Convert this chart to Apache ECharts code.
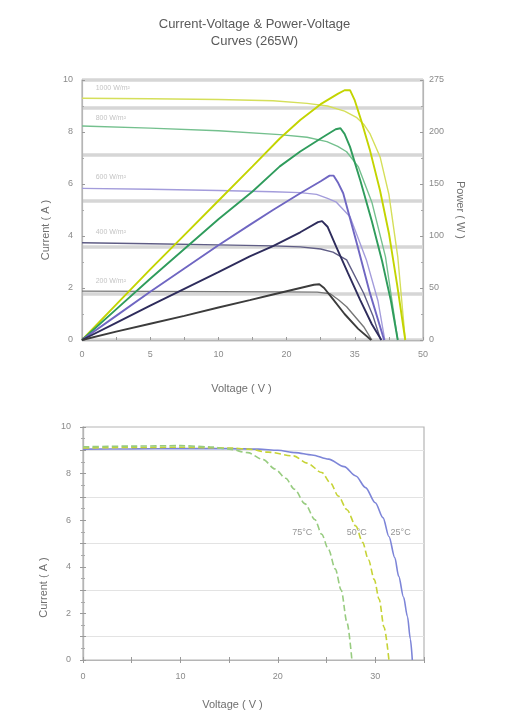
<!DOCTYPE html>
<html>
<head>
<meta charset="utf-8">
<script src="https://cdn.jsdelivr.net/npm/echarts@6/dist/echarts.min.js"></script>
<style>
    html, body { margin: 0; padding: 0; background: #fff; }
    #chart { width: 509px; height: 720px; }
</style>
</head>
<body>
<div id="chart"></div>
<script>
    // ---- top chart: x runs in plot units 0..50, printed with the sheet's labels
    const topVoltLabels = ['0', '5', '10', '20', '35', '50'];
    const powerLabels = ['0', '50', '100', '150', '200', '275'];
    const irradiances = ['1000 W/m²', '800 W/m²', '600 W/m²', '400 W/m²', '200 W/m²'];
    const irrLabelPos = [[2, 9.69], [2, 8.54], [2, 6.27], [2, 4.15], [2, 2.27]];

    // power-voltage curves (W)
    const pv1000 = [[0, 0], [5, 38], [10, 76], [15, 113], [20, 150], [25, 187], [29, 217], [32, 237], [35, 254], [37.5, 265], [38.5, 269], [39.3, 269], [40, 258], [41, 235], [42.2, 205], [43.7, 161], [45, 115], [46.2, 60], [47.4, 0]];
    const pv800 = [[0, 0], [5, 33], [10, 66], [15, 98], [20, 130], [25, 160], [29, 187], [32, 203], [35, 217], [37.2, 227], [37.9, 228], [38.5, 222], [39.3, 208], [40.8, 172], [42.5, 128], [44, 85], [45.3, 42], [46.3, 0]];
    const pv600 = [[0, 0], [5, 26], [10, 52], [15, 77], [20, 102], [24.6, 124], [28, 140], [32, 158], [35, 171], [36.3, 177], [36.9, 177], [37.5, 170], [38.3, 158], [40.3, 104], [42.2, 51], [44.3, 0]];
    const pv400 = [[0, 0], [5, 18.5], [10, 37], [15, 55], [20, 73], [24.6, 90], [28, 101], [32, 116], [34.6, 127], [35.2, 128], [36, 122], [37.3, 100], [39, 72], [40.8, 43], [42.5, 17], [43.9, 0]];
    const pv200 = [[0, 0], [5, 9], [10, 17.5], [15, 26], [20, 35], [24.6, 43], [28, 49], [32, 56], [34, 59.5], [34.8, 60], [35.5, 56], [36.8, 44], [38.5, 28], [40.5, 12], [42.4, 0]];

    // current-voltage curves (A)
    const iv1000 = [[0, 9.3], [10, 9.28], [20, 9.25], [28, 9.2], [33, 9.1], [36, 9.0], [38.5, 8.8], [40.3, 8.55], [41.3, 8.3], [42.2, 7.95], [43.7, 7.05], [45, 5.6], [46.3, 3.2], [47.4, 0]];
    const iv800 = [[0, 8.23], [10, 8.15], [20, 8.05], [29, 7.9], [33, 7.8], [35.9, 7.63], [37.5, 7.45], [38.8, 7.24], [40.5, 6.67], [42.5, 5.3], [44.5, 3.2], [46.3, 0]];
    const iv600 = [[0, 5.83], [10, 5.8], [20, 5.75], [28, 5.7], [32, 5.67], [34.4, 5.6], [36, 5.45], [37.3, 5.3], [39.3, 4.74], [41.7, 3.08], [43.4, 1.5], [44.4, 0]];
    const iv400 = [[0, 3.74], [10, 3.7], [20, 3.66], [28, 3.62], [32, 3.58], [35, 3.5], [36.8, 3.38], [38.8, 3.08], [41.3, 1.8], [42.7, 0.9], [43.8, 0]];
    const iv200 = [[0, 1.88], [10, 1.87], [20, 1.86], [30, 1.85], [34.5, 1.84], [36.4, 1.78], [37.6, 1.55], [38.8, 1.28], [41.3, 0.51], [42.5, 0]];

    // ---- bottom chart: current vs voltage at three cell temperatures
    const temps = ['25°C', '50°C', '75°C'];
    const tempLabelPos = [[32.6, 5.47], [28.1, 5.47], [22.5, 5.47]];
    const t25 = [[0, 9.05], [5, 9.06], [10, 9.07], [15, 9.07], [18, 9.05], [20, 9.0], [21.8, 8.9], [23.5, 8.8], [25.2, 8.62], [26.8, 8.3], [28, 7.9], [29, 7.4], [30, 6.75], [30.8, 6.1], [31.4, 5.3], [32, 4.4], [32.4, 3.6], [32.9, 2.7], [33.3, 1.87], [33.6, 0.9], [33.8, 0]];
    const t50 = [[0, 9.1], [5, 9.12], [10, 9.13], [15, 9.1], [17, 9.05], [19, 8.92], [21.6, 8.76], [23, 8.45], [24.5, 8.05], [25.4, 7.6], [26.2, 7.04], [27.1, 6.45], [28, 5.75], [28.7, 5.05], [29.3, 4.3], [29.9, 3.45], [30.4, 2.6], [30.9, 1.4], [31.4, 0]];
    const t75 = [[0, 9.15], [5, 9.18], [10, 9.2], [13, 9.15], [15, 9.05], [16.9, 8.9], [18.5, 8.6], [19.7, 8.2], [20.8, 7.8], [21.7, 7.33], [22.8, 6.7], [23.8, 6.03], [24.5, 5.4], [25.2, 4.74], [25.9, 3.9], [26.5, 3.0], [27.1, 1.6], [27.6, 0]];

    const pvColors = ['#c3d400', '#2f9c5c', '#6f66c2', '#2e2c5c', '#3c3c3c'];
    const ivColors = ['#d5df5a', '#74c08e', '#a39cdb', '#5f5d85', '#777777'];
    const tempColors = ['#7d85d8', '#c6d336', '#98cc80'];

    const font = 'Liberation Sans';
    const axisGray = '#b5b5b5';
    const labelStyle = {color: '#8a8a8a', fontSize: 9, fontFamily: font};
    const nameStyle = {color: '#6f6f6f', fontSize: 11, fontFamily: font};

    let chart = echarts.init(document.getElementById('chart'));

    let pvSets = [pv1000, pv800, pv600, pv400, pv200];
    let ivSets = [iv1000, iv800, iv600, iv400, iv200];
    let series = [];

    for (let i = 0; i < ivSets.length; i++) {
        series.push({
            type: 'line', xAxisIndex: 0, yAxisIndex: 0,
            data: ivSets[i], showSymbol: false,
            lineStyle: {color: ivColors[i], width: 1.4}
        });
    }
    for (let i = 0; i < pvSets.length; i++) {
        series.push({
            type: 'line', xAxisIndex: 0, yAxisIndex: 2,
            data: pvSets[i], showSymbol: false,
            lineStyle: {color: pvColors[i], width: 1.9}
        });
    }
    series.push({
        type: 'scatter', xAxisIndex: 0, yAxisIndex: 0, symbolSize: 0, silent: true,
        data: irrLabelPos.map((p, i) => ({value: p, name: irradiances[i]})),
        label: {show: true, position: 'right', distance: 0, formatter: '{b}', color: '#b4b4b4', fontSize: 7, fontFamily: font}
    });

    let tSets = [t25, t50, t75];
    for (let i = 0; i < tSets.length; i++) {
        series.push({
            type: 'line', xAxisIndex: 1, yAxisIndex: 3,
            data: tSets[i], showSymbol: false, smooth: 0.3, smoothMonotone: 'x',
            lineStyle: {color: tempColors[i], width: 1.6, type: i === 0 ? 'solid' : 'dashed'}
        });
    }
    series.push({
        type: 'scatter', xAxisIndex: 1, yAxisIndex: 3, symbolSize: 0, silent: true,
        data: tempLabelPos.map((p, i) => ({value: p, name: temps[i]})),
        label: {show: true, position: 'inside', formatter: '{b}', color: '#7a7a7a', fontSize: 9, fontFamily: font}
    });

    let tickIn = {show: true, inside: true, length: 3, lineStyle: {color: '#9a9a9a'}};
    let minorIn = {show: true, splitNumber: 2, length: 2, lineStyle: {color: '#aaaaaa'}};
    let line = {show: true, lineStyle: {color: axisGray, width: 1.2}};

    chart.setOption({
        animation: false,
        title: {
            text: 'Current-Voltage & Power-Voltage\nCurves (265W)',
            left: 'center', top: 11,
            textStyle: {fontSize: 13, fontWeight: 'normal', color: '#5a5a5a', lineHeight: 17, fontFamily: font}
        },
        grid: [
            {left: 82, right: 86, top: 80, bottom: 380, show: true, borderColor: axisGray, borderWidth: 1.2},
            {left: 83, right: 85, top: 427, bottom: 60, show: true, borderColor: axisGray, borderWidth: 1.2}
        ],
        xAxis: [
            {
                type: 'value', gridIndex: 0, min: 0, max: 50, interval: 5,
                axisLine: line, axisTick: tickIn, splitLine: {show: false},
                axisLabel: Object.assign({margin: 10, formatter: v => v % 10 === 0 ? topVoltLabels[v / 10] : ''}, labelStyle),
                name: 'Voltage ( V )', nameLocation: 'middle', nameGap: 43,
                nameTextStyle: Object.assign({padding: [0, 22, 0, 0]}, nameStyle)
            },
            {
                type: 'value', gridIndex: 1, min: 0, max: 35, interval: 5,
                axisLine: line, axisTick: tickIn, splitLine: {show: false},
                axisLabel: Object.assign({margin: 12, formatter: v => (v % 10 === 0 && v < 35) ? String(v) : ''}, labelStyle),
                name: 'Voltage ( V )', nameLocation: 'middle', nameGap: 39,
                nameTextStyle: Object.assign({padding: [0, 42, 0, 0]}, nameStyle)
            },
            {
                type: 'value', gridIndex: 1, min: 0, max: 35, interval: 5, position: 'top',
                axisLine: line, axisTick: tickIn, axisLabel: {show: false}, splitLine: {show: false}
            }
        ],
        yAxis: [
            {
                type: 'value', gridIndex: 0, min: 0, max: 10, interval: 2,
                axisLine: line, axisTick: tickIn, minorTick: minorIn, splitLine: {show: false},
                axisLabel: Object.assign({margin: 9}, labelStyle),
                name: 'Current ( A )', nameLocation: 'middle', nameGap: 31, nameRotate: 90,
                nameTextStyle: Object.assign({padding: [0, 40, 0, 0]}, nameStyle)
            },
            {
                type: 'value', gridIndex: 0, min: 0, max: 280, interval: 56, position: 'right',
                axisLine: line, axisTick: tickIn, minorTick: minorIn, splitLine: {show: false},
                axisLabel: Object.assign({margin: 6, formatter: v => powerLabels[Math.round(v / 56)]}, labelStyle),
                name: 'Power ( W )', nameLocation: 'middle', nameGap: 22, nameRotate: -90,
                nameTextStyle: nameStyle
            },
            {
                // hidden power scale carrying the grey reference bands
                type: 'value', gridIndex: 0, min: 0, max: 280, interval: 50, position: 'right',
                axisLine: {show: false}, axisTick: {show: false}, axisLabel: {show: false},
                splitLine: {show: true, lineStyle: {color: '#d6d6d6', width: 3.5}}
            },
            {
                type: 'value', gridIndex: 1, min: 0, max: 10, interval: 1,
                axisLine: line, axisTick: tickIn, minorTick: minorIn,
                splitLine: {show: true, lineStyle: {color: ['transparent', '#e3e3e3'], width: 1}},
                axisLabel: Object.assign({margin: 12, formatter: v => v % 2 === 0 ? String(v) : ''}, labelStyle),
                name: 'Current ( A )', nameLocation: 'middle', nameGap: 34, nameRotate: 90,
                nameTextStyle: Object.assign({padding: [0, 88, 0, 0]}, nameStyle)
            },
            {
                type: 'value', gridIndex: 1, min: 0, max: 10, interval: 1, position: 'right',
                axisLine: line, axisTick: tickIn, minorTick: minorIn,
                axisLabel: {show: false}, splitLine: {show: false}
            }
        ],
        series: series
    });
</script>
</body>
</html>
